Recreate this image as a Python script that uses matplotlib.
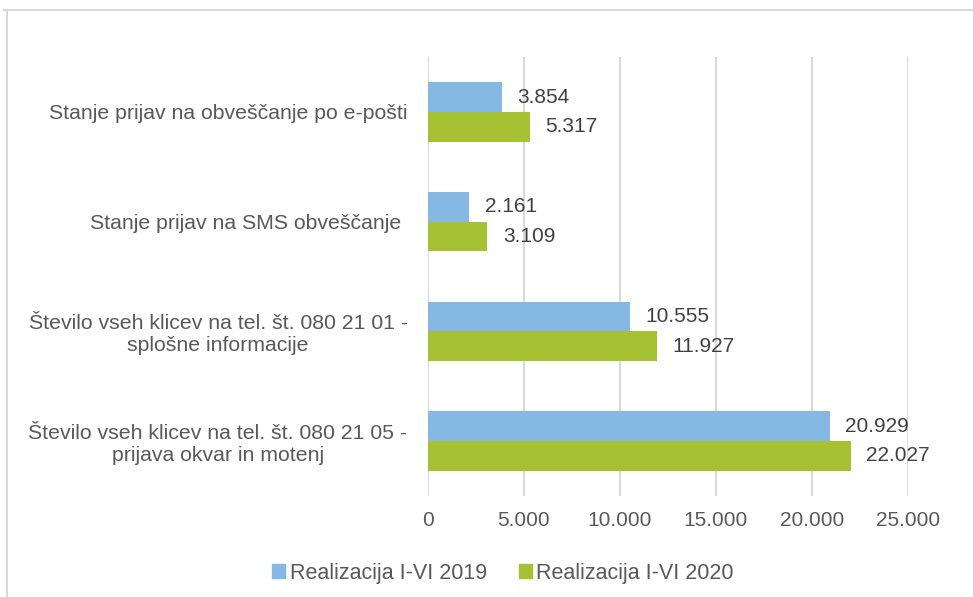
import matplotlib.pyplot as plt
import numpy as np
from matplotlib.lines import Line2D
from matplotlib.ticker import FuncFormatter

plt.rcParams['font.family'] = ['Liberation Sans', 'DejaVu Sans']

categories = [
    'Stanje prijav na obveščanje po e-pošti',
    'Stanje prijav na SMS obveščanje ',
    'Število vseh klicev na tel. št. 080 21 01 -\nsplošne informacije',
    'Število vseh klicev na tel. št. 080 21 05 -\nprijava okvar in motenj',
]
real_2019 = [3854, 2161, 10555, 20929]
real_2020 = [5317, 3109, 11927, 22027]
series_names = ['Realizacija I-VI 2019', 'Realizacija I-VI 2020']

blue = '#85B9E4'
green = '#A6C232'
grid_col = '#D9D9D9'


def dot_thousands(v):
    return f'{int(round(v)):,}'.replace(',', '.')


fig = plt.figure(figsize=(9.73, 5.97), dpi=100)
ax = fig.add_axes([0.4396, 0.1692, 0.4933, 0.7353])

y = np.arange(len(categories))
h = 0.27
ax.barh(y - h / 2, real_2019, height=h, color=blue, label=series_names[0], zorder=3)
ax.barh(y + h / 2, real_2020, height=h, color=green, label=series_names[1], zorder=3)

for yi, v in zip(y, real_2019):
    ax.text(v + 800, yi - h / 2, dot_thousands(v), va='center', ha='left', fontsize=15, color='#404040')
for yi, v in zip(y, real_2020):
    ax.text(v + 800, yi + h / 2, dot_thousands(v), va='center', ha='left', fontsize=15, color='#404040')

ax.set_xlim(0, 25000)
ax.set_ylim(3.5, -0.5)
ax.set_xticks(range(0, 25001, 5000))
ax.xaxis.set_major_formatter(FuncFormatter(lambda v, p: dot_thousands(v)))
ax.set_yticks(y)
ax.set_yticklabels(categories, multialignment='center')
ax.tick_params(axis='y', length=0, pad=14.5, labelsize=15.3, labelcolor='#595959')
ax.tick_params(axis='x', length=0, pad=11, labelsize=15, labelcolor='#595959')
ax.grid(axis='x', color=grid_col, linewidth=1.5, zorder=0)
for s in ax.spines.values():
    s.set_visible(False)

handles = [plt.Rectangle((0, 0), 1, 1, color=blue), plt.Rectangle((0, 0), 1, 1, color=green)]
fig.legend(handles, series_names, loc='center', bbox_to_anchor=(0.517, 0.04), ncol=2,
           frameon=False, fontsize=15.5, labelcolor='#595959', handlelength=0.6, handleheight=0.6,
           handletextpad=0.2, columnspacing=1.5)

# light frame around the chart area
fig.add_artist(Line2D([0.004, 1.0], [1 - 10 / 597, 1 - 10 / 597], color=grid_col, linewidth=1.5))
fig.add_artist(Line2D([7 / 973, 7 / 973], [0, 1 - 10 / 597], color=grid_col, linewidth=1.5))

fig.savefig('out.png', dpi=100)
